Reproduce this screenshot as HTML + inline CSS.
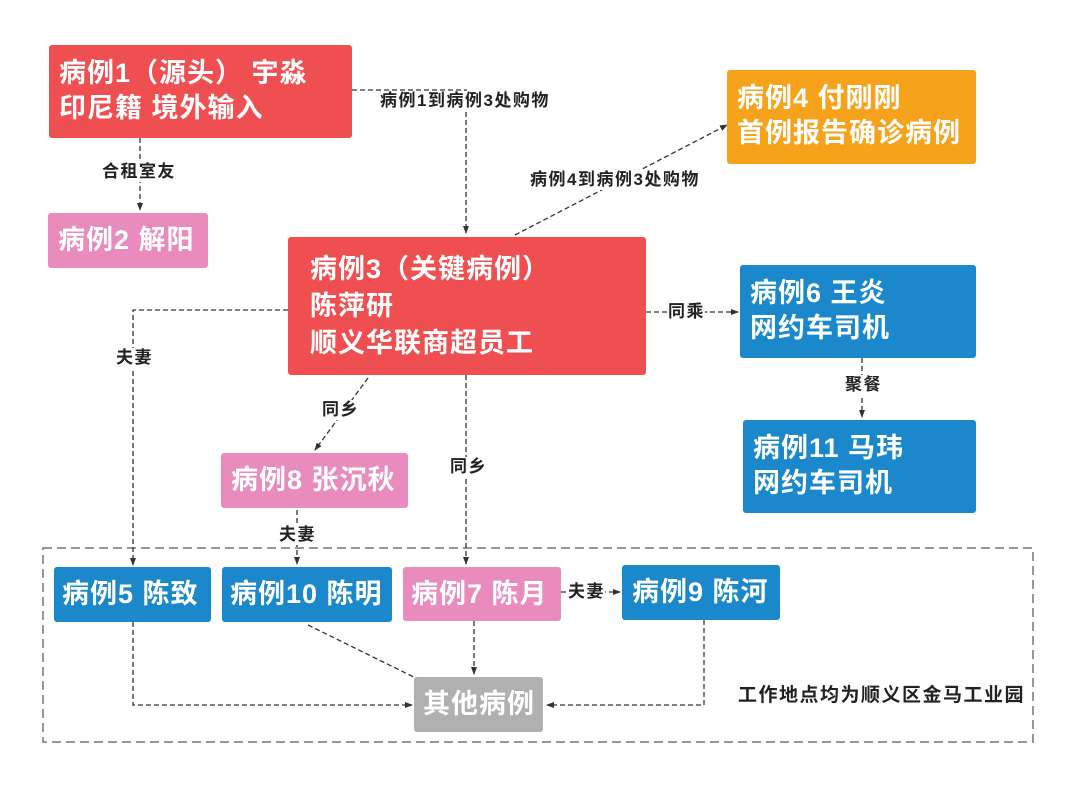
<!DOCTYPE html>
<html><head><meta charset="utf-8"><style>
body{margin:0;width:1080px;height:785px;background:#fff;position:relative;overflow:hidden;font-family:"Liberation Sans","Noto Sans CJK SC",sans-serif}
.b{position:absolute;color:#fff;font-size:27px;letter-spacing:1px;font-weight:bold;border-radius:3px;box-sizing:border-box;line-height:35px;white-space:nowrap}
.r{background:#f04f52}.p{background:#e98cbd}.o{background:#f7a21b}.u{background:#1a88ca}.g{background:#b0b0b0}
.l{position:absolute;font-size:17px;letter-spacing:1.5px;font-weight:bold;color:#222;background:#fff;line-height:20px;white-space:nowrap}
</style></head><body>
<svg width="1080" height="785" style="position:absolute;left:0;top:0">
<defs><marker id="a" markerWidth="8" markerHeight="8" refX="7" refY="4" orient="auto" markerUnits="userSpaceOnUse"><path d="M0,1 L8,4 L0,7z" fill="#333"/></marker></defs>
<g stroke="#333" stroke-width="1.3" stroke-dasharray="5,3" fill="none">
<rect x="43" y="548" width="990" height="194" stroke="#777" stroke-dasharray="9,5" stroke-width="1.5"/>
<path d="M352 90 H466 V233" marker-end="url(#a)"/>
<path d="M140 138 V210" marker-end="url(#a)"/>
<path d="M515 235 L727 125" marker-end="url(#a)"/>
<path d="M288 310 H133 V565" marker-end="url(#a)"/>
<path d="M646 312 H738" marker-end="url(#a)"/>
<path d="M862 358 V417" marker-end="url(#a)"/>
<path d="M368 378 L315 450" marker-end="url(#a)"/>
<path d="M466 375 V564" marker-end="url(#a)"/>
<path d="M297 510 V564" marker-end="url(#a)"/>
<path d="M561 592 H620" marker-end="url(#a)"/>
<path d="M133 622 V705 H412" marker-end="url(#a)"/>
<path d="M308 625 L430 685" marker-end="url(#a)"/>
<path d="M474 621 V674" marker-end="url(#a)"/>
<path d="M704 620 V705 H547" marker-end="url(#a)"/>
</g></svg>
<div class="b r" style="left:49px;top:45px;width:303px;height:93px;padding:11px 0 0 10px">病例1（源头） 宇淼<br>印尼籍 境外输入</div>
<div class="b p" style="left:48px;top:213px;width:160px;height:55px;padding:10px 0 0 10px">病例2 解阳</div>
<div class="b r" style="left:288px;top:237px;width:358px;height:138px;padding:14px 0 0 22px;line-height:37px">病例3（关键病例）<br>陈萍研<br>顺义华联商超员工</div>
<div class="b o" style="left:727px;top:70px;width:249px;height:94px;padding:11px 0 0 10px">病例4 付刚刚<br>首例报告确诊病例</div>
<div class="b u" style="left:740px;top:265px;width:236px;height:93px;padding:11px 0 0 10px">病例6 王炎<br>网约车司机</div>
<div class="b u" style="left:743px;top:420px;width:233px;height:93px;padding:11px 0 0 10px">病例11 马玮<br>网约车司机</div>
<div class="b p" style="left:221px;top:453px;width:187px;height:55px;padding:10px 0 0 10px">病例8 张沉秋</div>
<div class="b u" style="left:54px;top:567px;width:157px;height:55px;padding:10px 0 0 8px">病例5 陈致</div>
<div class="b u" style="left:222px;top:567px;width:170px;height:55px;padding:10px 0 0 8px">病例10 陈明</div>
<div class="b p" style="left:403px;top:567px;width:158px;height:54px;padding:10px 0 0 8px">病例7 陈月</div>
<div class="b u" style="left:622px;top:565px;width:158px;height:55px;padding:10px 0 0 10px">病例9 陈河</div>
<div class="b g" style="left:414px;top:677px;width:129px;height:55px;padding:10px 0 0 9px">其他病例</div>
<div class="l" style="left:380px;top:91px">病例1到病例3处购物</div>
<div class="l" style="left:102px;top:162px">合租室友</div>
<div class="l" style="left:530px;top:170px">病例4到病例3处购物</div>
<div class="l" style="left:116px;top:348px">夫妻</div>
<div class="l" style="left:668px;top:302px">同乘</div>
<div class="l" style="left:845px;top:375px">聚餐</div>
<div class="l" style="left:322px;top:400px">同乡</div>
<div class="l" style="left:450px;top:457px">同乡</div>
<div class="l" style="left:279px;top:525px">夫妻</div>
<div class="l" style="left:568px;top:582px">夫妻</div>
<div class="l" style="left:738px;top:686px;font-size:19px;letter-spacing:1.5px">工作地点均为顺义区金马工业园</div>
</body></html>
